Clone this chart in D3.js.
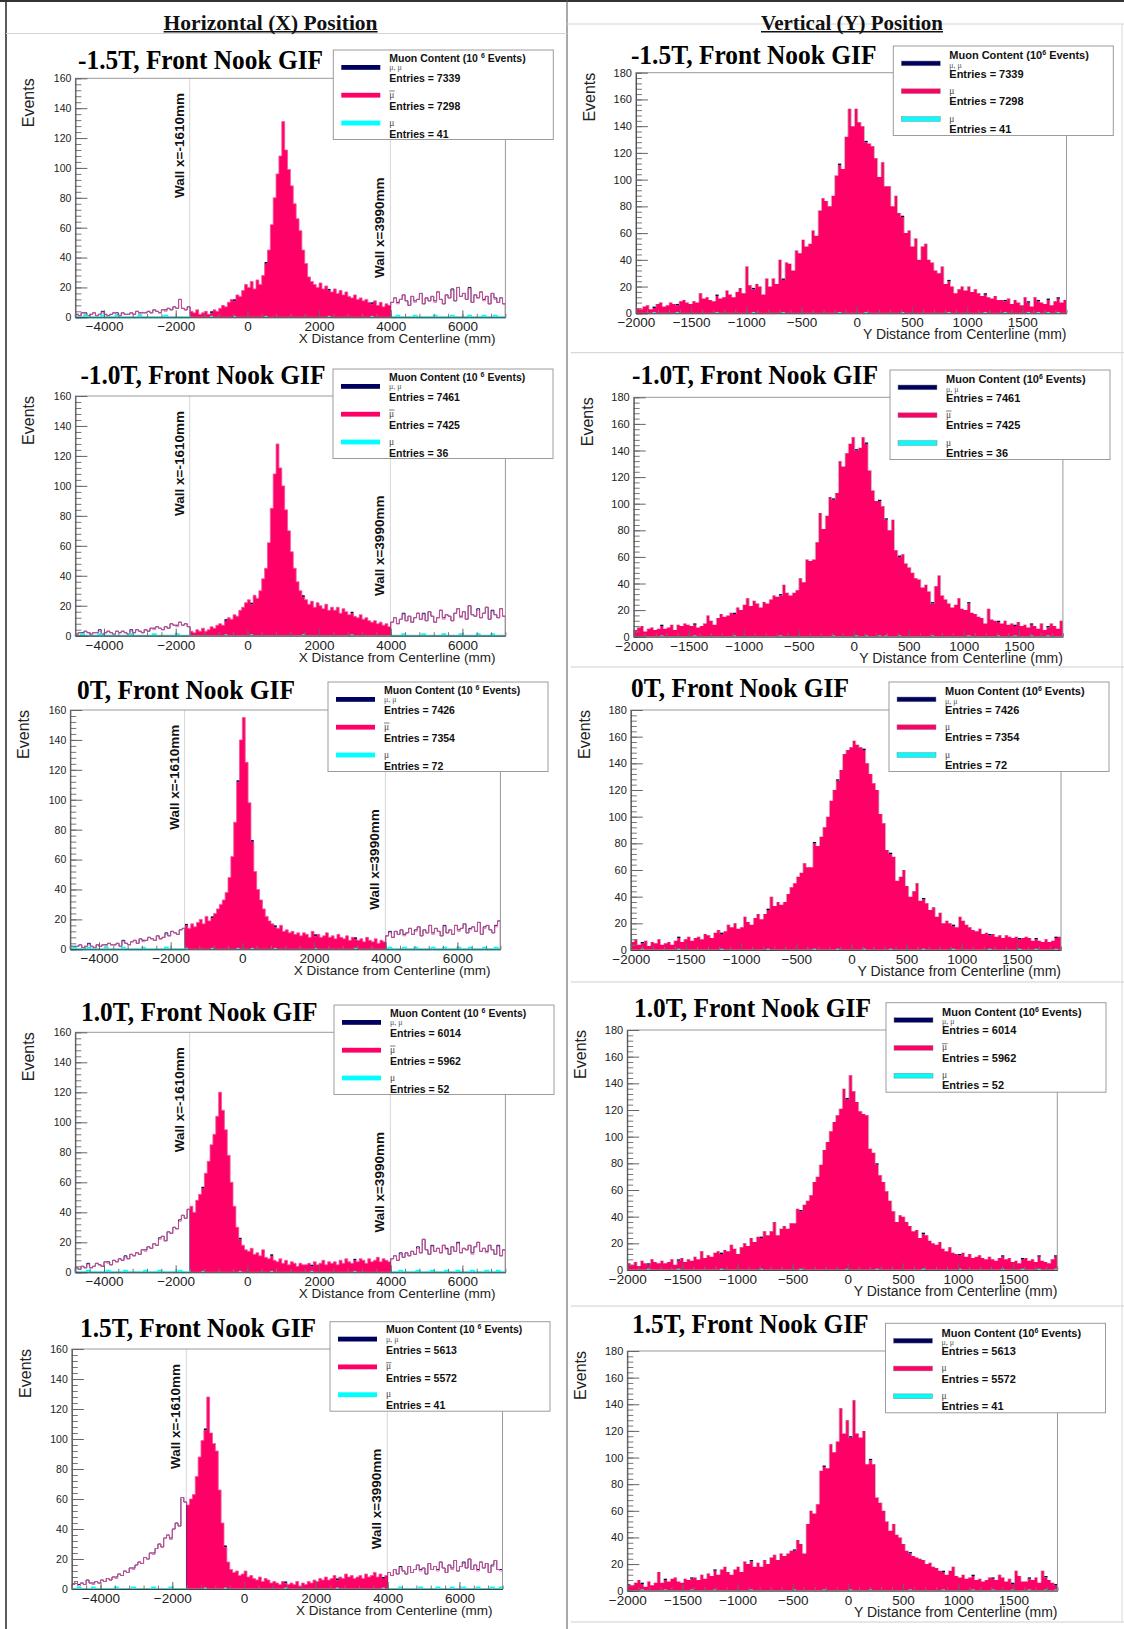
<!DOCTYPE html>
<html><head><meta charset="utf-8">
<script src="https://cdn.jsdelivr.net/npm/d3@7"></script>
<style>body{margin:0;background:#fff}svg{display:block}</style>
</head><body>
<svg id="c" width="1124" height="1629"></svg>
<script>
// ---------------- DATA ----------------
const fieldLabels = ["-1.5T", "-1.0T", "0T", "1.0T", "1.5T"];
const entriesAll = [7339, 7461, 7426, 6014, 5613];
const entriesAntiMu = [7298, 7425, 7354, 5962, 5572];
const entriesMu = [41, 36, 72, 52, 41];
const columnHeaders = ["Horizontal (X) Position", "Vertical (Y) Position"];
const xAxisTitles = ["X Distance from Centerline (mm)", "Y Distance from Centerline (mm)"];
const xRange = [-4800, 7200], xBinWidth = 80;      // X panels: 150 bins
const yRange = [-2000, 1900], yBinWidth = 30;      // Y panels: 130 bins
const walls = [-1610, 3990];
const wallLabels = ["Wall x=-1610mm", "Wall x=3990mm"];
const xTickValues = [-4000, -2000, 0, 2000, 4000, 6000];
const yPosTickValues = [-2000, -1500, -1000, -500, 0, 500, 1000, 1500];
const eventTicksX = [0, 20, 40, 60, 80, 100, 120, 140, 160];
const eventTicksY = [0, 20, 40, 60, 80, 100, 120, 140, 160, 180];

// anti-muon counts, X distance, 80 mm bins from -4800
const xAnti_m15 = [2,1,3,2,1,2,3,1,2,3,2,1,2,3,2, 1,3,2,2,3,2,4,2,3,3,4,3,5,4,3, 5,4,6,5,7,6,12,6,5,7,
 4,3,5,2,3,4,2,3,5,4, 6,8,7,10,12,11,15,14,18,22, 20,24,19,25,22,28,36,45,62,80, 96,108,131,112,99,88,76,66,58,45,
 36,27,24,22,20,23,19,21,18,17, 19,16,18,15,17,14,13,15,12,13, 11,12,10,9,11,8,10,7,9,8,
 10,13,9,12,15,11,8,14,10,12,16,9,13,11,14,10,17,12,9,15,13,18,11,20,14,16,12,19,10,15,13,17,11,14,9,16,12,10,13,9];
const xAnti_m10 = [1,2,1,3,2,1,2,2,3,1,2,3,2,1,3, 2,3,2,1,3,2,4,3,2,4,3,5,4,6,5, 4,6,5,8,7,6,9,7,8,6,
 3,2,4,3,5,3,4,6,5,7, 8,7,10,12,11,14,13,17,19,22, 24,21,27,25,30,38,45,62,85,108, 128,112,100,84,70,56,45,36,30,26,
 24,21,23,19,22,20,18,21,17,19, 17,19,15,18,16,14,15,13,12,14, 11,12,10,9,10,8,9,7,8,6,
 9,12,8,11,14,10,13,9,12,15,11,14,10,16,13,9,12,17,11,14,13,10,15,18,12,16,11,20,14,13,17,12,15,19,11,16,14,12,18,13];
const xAnti_0 = [2,1,2,3,1,2,3,2,1,3,2,3,2,4,3, 3,4,2,5,4,3,5,6,4,7,5,6,8,7,6, 9,7,8,10,9,12,11,10,13,14,
 16,14,17,15,18,20,17,22,19,21, 24,27,30,33,38,48,62,85,112,140, 155,125,98,72,52,40,33,27,22,19, 17,15,14,16,12,13,11,12,10,11,
 9,11,10,8,12,9,10,8,9,11, 8,9,7,10,8,7,9,6,8,7, 6,7,5,8,6,5,7,4,6,5,
 9,11,8,12,10,13,9,11,14,10,12,15,9,13,11,16,10,14,12,9,15,11,13,10,16,12,14,17,11,13,15,12,18,10,14,16,13,11,15,19];
const xAnti_p10 = [3,2,4,3,5,3,4,6,5,4,7,6,5,8,7, 9,8,10,9,12,11,13,12,15,14,17,16,19,18,22, 24,21,27,26,30,29,34,38,36,42,
 44,40,48,52,56,66,74,85,92,104, 120,108,95,78,60,44,30,22,18,15, 14,16,12,13,11,15,10,9,11,8, 7,9,6,8,5,7,6,4,6,5,
 5,6,4,7,5,6,8,5,7,6, 7,5,8,6,9,7,6,8,7,9, 8,6,9,7,8,10,7,9,8,7,
 9,11,8,12,10,13,11,14,12,16,13,22,15,12,17,14,16,13,18,15,12,17,14,19,13,16,15,18,12,17,20,14,16,13,18,15,12,17,11,15];
const xAnti_p15 = [3,5,2,4,3,6,4,3,5,4,6,5,7,6,8, 7,10,9,12,11,14,13,16,18,17,21,20,24,23,27, 30,28,34,36,33,40,44,42,61,58,
 56,60,63,75,88,99,106,128,104,97, 92,66,44,28,18,13,11,12,9,10, 12,8,9,7,6,8,5,7,6,4, 5,4,3,5,4,3,4,3,5,2,
 4,3,5,4,6,5,7,6,8,6, 7,9,6,8,7,10,8,9,7,8, 9,7,10,8,9,11,8,10,7,9,
 11,9,13,10,14,12,10,15,11,13,16,12,14,10,17,13,15,12,18,14,11,16,13,19,12,15,17,14,20,13,16,12,18,14,17,11,15,19,13,12];
// muon (single-event) bins, X panels
const xMu_m15 = [3,9,14,22,31,47,55,66,88,103,112,118,125,131,137,142,146];
const xMu_m10 = [2,8,19,27,35,52,61,79,96,114,121,128,134,140,145];
const xMu_0 = [1,6,12,18,25,33,40,49,58,63,71,85,99,111,116,120,126,130,135,139,144,148];
const xMu_p10 = [4,11,17,24,29,36,44,57,68,82,97,113,119,124,129,133,138,143,147];
const xMu_p15 = [2,7,15,21,28,34,46,53,74,92,108,114,121,127,132,136,141,146,149];

// anti-muon counts, Y distance, 30 mm bins from -2000
const yAnti_m15 = [4,3,5,6,3,4,7,8,5,6, 8,7,6,9,10,8,7,9,8,15, 11,12,10,9,13,11,12,17,14,12, 16,19,15,35,21,18,22,20,14,26,
 20,26,22,40,25,38,37,32,47,45, 55,50,52,62,58,77,86,84,80,88, 103,111,108,132,153,140,153,143,140,128,
 127,125,116,102,113,95,95,80,88,75, 72,60,62,50,56,40,50,52,40,38, 32,30,35,22,24,20,15,18,20,17,
 20,16,18,15,13,14,12,11,13,10, 10,9,11,7,10,8,6,12,8,5, 12,9,8,7,10,6,9,11,8,10];
const yAnti_m10 = [5,7,8,4,6,7,5,6,8,6, 7,9,5,9,8,10,9,8,9,7, 8,10,16,12,9,14,17,15,16,18, 17,22,20,24,29,23,27,25,22,26,
 25,28,31,30,31,39,33,31,33,35, 44,41,58,57,58,71,93,81,91,105, 103,108,132,128,138,145,150,140,142,150,
 145,125,110,102,102,98,88,80,88,65, 60,62,55,52,48,44,43,37,39,34, 25,38,46,31,28,25,22,24,29,21,
 20,25,18,17,15,14,10,21,13,12, 11,10,12,9,10,8,11,8,9,7, 9,8,6,10,5,7,10,8,6,12];
const yAnti_0 = [6,8,4,5,7,3,6,5,8,4, 5,6,4,7,9,6,8,10,7,9, 10,8,12,11,9,13,15,12,14,19, 17,20,16,17,25,21,19,24,27,23,
 27,30,40,33,36,34,36,42,47,50, 55,58,65,62,62,80,78,85,92,100, 112,120,127,135,147,150,152,157,154,152,
 150,140,132,125,120,102,95,75,72,70, 52,55,60,48,40,44,50,37,38,35, 30,32,25,28,20,22,20,18,17,25,
 22,19,17,15,14,16,12,13,11,12, 10,11,9,11,10,9,10,8,9,10, 9,7,8,7,6,8,6,7,9,10];
const yAnti_p10 = [5,4,6,3,7,5,4,8,6,5, 7,5,6,8,4,7,9,6,8,7, 10,8,14,9,11,10,13,14,12,15, 14,19,16,12,17,20,18,24,21,25,
 24,29,26,29,36,26,31,33,31,35, 35,46,44,49,52,56,66,70,79,90, 96,104,111,116,121,136,128,146,134,126,
 119,117,116,91,88,79,71,66,59,52, 44,36,41,40,36,33,29,30,24,27, 26,22,20,19,21,16,14,17,13,12,
 11,13,10,12,9,10,11,9,8,10, 8,7,9,10,8,9,6,7,5,8, 9,7,8,6,10,7,6,5,8,10];
const yAnti_p15 = [5,4,6,8,5,3,7,4,6,14, 6,8,7,9,10,7,6,9,8,9, 10,8,12,9,13,11,15,12,16,18, 14,12,16,18,14,22,20,22,18,21,
 18,23,20,25,27,23,28,26,28,30, 30,38,35,28,50,60,58,65,90,93, 92,110,104,112,137,118,128,115,143,118,
 115,120,95,98,95,70,66,60,52,45, 50,42,40,35,30,28,26,25,24,23, 20,21,18,17,15,14,12,15,18,11,
 10,12,9,10,11,8,9,7,8,10, 9,8,12,10,7,9,5,15,11,7, 7,9,8,10,6,15,10,8,6,4];
const yMu_m15 = [5,12,24,35,44,61,69,80,94,105,111,118,121,124,127];
const yMu_m10 = [8,18,30,44,60,67,70,74,76,80,90,101,110,115,120,125];
const yMu_0 = [3,14,27,41,55,62,70,78,88,97,108,117,122,128];
const yMu_p10 = [6,15,28,40,52,66,75,89,100,113,119,124,129];
const yMu_p15 = [4,11,19,26,37,50,59,67,73,85,95,104,110,116,121,126,129];

const xAntiSets = [xAnti_m15, xAnti_m10, xAnti_0, xAnti_p10, xAnti_p15];
const xMuSets = [xMu_m15, xMu_m10, xMu_0, xMu_p10, xMu_p15];
const yAntiSets = [yAnti_m15, yAnti_m10, yAnti_0, yAnti_p10, yAnti_p15];
const yMuSets = [yMu_m15, yMu_m10, yMu_0, yMu_p10, yMu_p15];

// ---------------- LAYOUT ----------------
const NAVY = "#00005e", PINK = "#ff0066", CYAN = "#00ffff";
const leftLayout = [
 {x0:75.4,x1:505.4,yT:78.3,yB:317.3,tx:78,ty:68.5,tw:245,lx:333.3,ly:50},
 {x0:75.4,x1:505.4,yT:396,yB:635.7,tx:80.4,ty:384,tw:245,lx:333,ly:369},
 {x0:70.3,x1:500.4,yT:710,yB:949.3,tx:77,ty:699,tw:218,lx:328,ly:682},
 {x0:75.3,x1:505.4,yT:1032.3,yB:1272.3,tx:81,ty:1021,tw:236.6,lx:334,ly:1005},
 {x0:71.8,x1:502.5,yT:1349,yB:1589,tx:80,ty:1337,tw:236,lx:330,ly:1321.7}
];
const rightLayout = [
 {x0:635.9,x1:1066.5,yT:72.7,yB:313.3,tx:630.9,ty:64,tw:245.6,lx:893.3,ly:46,bar:false},
 {x0:633.7,x1:1062.9,yT:397.3,yB:636.7,tx:632,ty:384,tw:246,lx:890,ly:370,bar:true},
 {x0:630.8,x1:1061,yT:710,yB:950,tx:631,ty:697,tw:218,lx:889,ly:682,bar:false},
 {x0:627.2,x1:1057.3,yT:1030,yB:1270,tx:634,ty:1017,tw:237,lx:886,ly:1002.7,bar:true},
 {x0:627.3,x1:1057.5,yT:1351,yB:1590.7,tx:632,ty:1333,tw:236.6,lx:885.5,ly:1323.3,bar:false}
];
const tickFmt = d => (d < 0 ? "\u2212" + Math.abs(d) : String(d));

const svg = d3.select("#c");
svg.append("rect").attr("width",1124).attr("height",1629).attr("fill","#fff");

// page frame & separators
svg.append("line").attr("x1",0).attr("x2",1124).attr("y1",1).attr("y2",1).attr("stroke","#333").attr("stroke-width",2);
svg.append("line").attr("x1",6).attr("x2",6).attr("y1",0).attr("y2",1629).attr("stroke","#333").attr("stroke-width",1.6);
svg.append("line").attr("x1",567).attr("x2",567).attr("y1",0).attr("y2",1629).attr("stroke","#555").attr("stroke-width",1);
svg.append("line").attr("x1",6).attr("x2",567).attr("y1",33.5).attr("y2",33.5).attr("stroke","#d4d4d4");
svg.append("line").attr("x1",567).attr("x2",1124).attr("y1",24).attr("y2",24).attr("stroke","#d4d4d4");
[352.7, 667, 982, 1306, 1622].forEach(y =>
  svg.append("line").attr("x1",571).attr("x2",1124).attr("y1",y).attr("y2",y).attr("stroke","#cfcfcf"));
svg.append("line").attr("x1",1122).attr("x2",1122).attr("y1",24).attr("y2",1622).attr("stroke","#d8d8d8");

// headers
[[270.6,214],[852,182]].forEach((p,i) => {
  svg.append("text").attr("x",p[0]).attr("y",30).attr("text-anchor","middle")
    .attr("font-family","Liberation Serif").attr("font-weight","bold").attr("font-size",21)
    .attr("textLength",p[1]).attr("lengthAdjust","spacingAndGlyphs").attr("fill","#111").text(columnHeaders[i]);
  svg.append("line").attr("x1",p[0]-p[1]/2).attr("x2",p[0]+p[1]/2).attr("y1",31.8).attr("y2",31.8)
    .attr("stroke","#111").attr("stroke-width",1.4);
});

function stepPath(vals, edgeFn, xs, ys, k0, k1, close) {
  let p = `M${xs(edgeFn(k0))},${ys(0)}`;
  for (let k = k0; k < k1; k++) p += `V${ys(vals[k])}H${xs(edgeFn(k + 1))}`;
  p += `V${ys(0)}`;
  return close ? p + "Z" : p;
}

function drawAxes(g, L, xs, ys, evTicks, xTicks, minorX, isLeft) {
  const ymax = evTicks[evTicks.length - 1];
  g.append("rect").attr("x",L.x0).attr("y",L.yT).attr("width",L.x1-L.x0).attr("height",L.yB-L.yT)
    .attr("fill","none").attr("stroke","#9a9a9a").attr("stroke-width",1);
  const yMinor = g.append("g").attr("transform",`translate(${L.x0},0)`)
    .call(d3.axisLeft(ys).tickValues(d3.range(0, ymax + 1, 4)).tickSize(-6).tickSizeOuter(0).tickFormat(""));
  yMinor.select(".domain").remove();
  yMinor.selectAll("line").attr("stroke","#777");
  const yAx = g.append("g").attr("transform",`translate(${L.x0},0)`)
    .call(d3.axisLeft(ys).tickValues(evTicks).tickSize(-12).tickSizeOuter(0).tickPadding(4).tickFormat(tickFmt));
  yAx.select(".domain").attr("stroke","#444");
  yAx.selectAll("line").attr("stroke","#666");
  yAx.selectAll("text").attr("font-family","Liberation Sans").attr("font-size", isLeft ? 10.5 : 11).attr("fill","#222");
  const xMinor = g.append("g").attr("transform",`translate(0,${L.yB})`)
    .call(d3.axisBottom(xs).tickValues(minorX).tickSize(-3.5).tickSizeOuter(0).tickFormat(""));
  xMinor.select(".domain").remove();
  xMinor.selectAll("line").attr("stroke","#777");
  const xAx = g.append("g").attr("transform",`translate(0,${L.yB})`)
    .call(d3.axisBottom(xs).tickValues(xTicks).tickSize(-7).tickSizeOuter(0).tickPadding(4.5).tickFormat(tickFmt));
  xAx.select(".domain").attr("stroke","#444");
  xAx.selectAll("line").attr("stroke","#666");
  xAx.selectAll("text").attr("font-family","Liberation Sans").attr("font-size",13.5).attr("fill","#222");
  g.append("text").attr("x", isLeft ? L.x1 - 10 : L.x1).attr("y", L.yB + 26).attr("text-anchor","end")
    .attr("font-family","Liberation Sans").attr("font-size", isLeft ? 13.5 : 14).attr("fill","#222")
    .text(xAxisTitles[isLeft ? 0 : 1]);
  g.append("text").attr("transform",`translate(${L.x0-41},${L.yT}) rotate(-90)`).attr("text-anchor","end")
    .attr("font-family","Liberation Sans").attr("font-size",16).attr("fill","#222").text("Events");
}

function drawTitle(g, L, i) {
  g.append("text").attr("x",L.tx).attr("y",L.ty).attr("font-family","Liberation Serif").attr("font-weight","bold")
    .attr("font-size",27).attr("textLength",L.tw).attr("lengthAdjust","spacingAndGlyphs").attr("fill","#000")
    .text(`${fieldLabels[i]}, Front Nook GIF`);
}

function drawLegend(g, L, i, isLeft, bar) {
  const x = L.lx, y = L.ly, fs = isLeft ? 10.5 : 11;
  const off = isLeft ? [11.7, 32.3, 60.3, 87.7] : [13.3, 31.7, 59.3, 86.7];
  g.append("rect").attr("x",x).attr("y",y).attr("width",220).attr("height",89.5)
    .attr("fill","#fff").attr("stroke","#9c9c9c").attr("stroke-width",1);
  [NAVY, PINK, CYAN].forEach((c, j) => {
    g.append("rect").attr("x",x+8).attr("y",y+15+j*27.8).attr("width",39).attr("height",4.8)
      .attr("fill",c).attr("stroke", isLeft ? "none" : "#888").attr("stroke-width",0.5);
  });
  const t = g.append("text").attr("x",x+56).attr("y",y+off[0]).attr("font-family","Liberation Sans")
    .attr("font-weight","bold").attr("font-size",fs).attr("fill","#111");
  t.append("tspan").text(isLeft ? "Muon Content (10 " : "Muon Content (10");
  t.append("tspan").attr("dy",-4).attr("font-size",7).text(isLeft ? " 6" : "6");
  t.append("tspan").attr("dy",4).text(" Events)");
  g.append("text").attr("x",x+56).attr("y",y+off[0]+8.2).attr("font-family","Liberation Serif")
    .attr("font-size",8).attr("fill","#555").text("μ, μ");
  g.append("text").attr("x",x+56).attr("y",y+47.5).attr("font-family","Liberation Serif")
    .attr("font-size",9.5).attr("fill","#444").text("μ");
  if (bar) g.append("line").attr("x1",x+56).attr("x2",x+61.5).attr("y1",y+41).attr("y2",y+41)
    .attr("stroke","#444").attr("stroke-width",0.7);
  g.append("text").attr("x",x+56).attr("y",y+75.5).attr("font-family","Liberation Serif")
    .attr("font-size",9.5).attr("fill","#444").text("μ");
  [entriesAll[i], entriesAntiMu[i], entriesMu[i]].forEach((e, j) => {
    g.append("text").attr("x",x+56).attr("y",y+off[j+1]).attr("font-family","Liberation Sans")
      .attr("font-weight","bold").attr("font-size",fs).attr("fill","#111").text(`Entries = ${e}`);
  });
}

function drawXPanel(i) {
  const L = leftLayout[i], anti = xAntiSets[i], n = anti.length;
  const mu = new Array(n).fill(0); xMuSets[i].forEach(k => mu[k] += 1);
  const total = anti.map((v, k) => v + mu[k]);
  const xs = d3.scaleLinear().domain(xRange).range([L.x0, L.x1]);
  const ys = d3.scaleLinear().domain([0, 160]).range([L.yB, L.yT]);
  const edge = k => xRange[0] + k * xBinWidth;
  const kLo = Math.round((walls[0] - xRange[0]) / xBinWidth), kHi = Math.round((walls[1] - xRange[0]) / xBinWidth);
  const g = svg.append("g");
  walls.forEach(w => g.append("line").attr("x1",xs(w)).attr("x2",xs(w)).attr("y1",L.yT).attr("y2",L.yB)
    .attr("stroke","#d6d6d6").attr("stroke-width",1));
  // total (navy) outline outside the walls
  [[0, kLo], [kHi, n]].forEach(r => g.append("path").attr("d",stepPath(total, edge, xs, ys, r[0], r[1], false))
    .attr("fill","none").attr("stroke",NAVY).attr("stroke-width",0.9));
  g.append("path").attr("d",stepPath(anti, edge, xs, ys, kLo, kHi, true)).attr("fill",PINK).attr("stroke","none");
  g.append("path").attr("d",stepPath(anti, edge, xs, ys, 0, n, false)).attr("fill","none")
    .attr("stroke","#f0589a").attr("stroke-width",1).attr("opacity",0.82);
  // navy tips where muons add to the total, inside walls
  g.selectAll(null).data(xMuSets[i].filter(k => k >= kLo && k < kHi)).enter().append("rect")
    .attr("x",k => xs(edge(k))).attr("width",k => xs(edge(k+1)) - xs(edge(k)))
    .attr("y",k => ys(total[k])).attr("height",k => ys(anti[k]) - ys(total[k])).attr("fill",NAVY);
  // muon histogram
  [[0, kLo], [kHi, n]].forEach(r => g.append("path").attr("d",stepPath(mu, edge, xs, ys, r[0], r[1], false))
    .attr("fill","none").attr("stroke",CYAN).attr("stroke-width",2));
  g.selectAll(null).data(xMuSets[i].filter(k => k >= kLo && k < kHi)).enter().append("rect")
    .attr("x",k => xs(edge(k))).attr("width",k => xs(edge(k+1)) - xs(edge(k)))
    .attr("y",ys(1)).attr("height",ys(0) - ys(1)).attr("fill",CYAN);
  drawAxes(g, L, xs, ys, eventTicksX, xTickValues, d3.range(-4800, 7201, 400), true);
  [[walls[0], 115], [walls[1], 60]].forEach((w, j) => {
    g.append("text").attr("transform",`translate(${xs(w[0]) - 6},${ys(w[1])}) rotate(-90)`)
      .attr("text-anchor","middle").attr("font-family","Liberation Sans").attr("font-weight","bold")
      .attr("font-size",13.5).attr("fill","#111").text(wallLabels[j]);
  });
  drawTitle(g, L, i);
  drawLegend(g, L, i, true, true);
}

function drawYPanel(i) {
  const L = rightLayout[i], anti = yAntiSets[i], n = anti.length;
  const mu = new Array(n).fill(0); yMuSets[i].forEach(k => mu[k] += 1);
  const total = anti.map((v, k) => v + mu[k]);
  const xs = d3.scaleLinear().domain(yRange).range([L.x0, L.x1]);
  const ys = d3.scaleLinear().domain([0, 180]).range([L.yB, L.yT]);
  const edge = k => yRange[0] + k * yBinWidth;
  const g = svg.append("g");
  g.append("path").attr("d",stepPath(anti, edge, xs, ys, 0, n, true)).attr("fill",PINK).attr("stroke","none");
  let vp = "";
  for (let k = 1; k < n; k++) if (anti[k] !== anti[k-1]) vp += `M${xs(edge(k))},${ys(anti[k-1])}V${ys(anti[k])}`;
  g.append("path").attr("d",vp).attr("fill","none").attr("stroke","#c4c4c4").attr("stroke-width",0.8);
  // navy tips (total above anti-muon)
  g.selectAll(null).data(yMuSets[i]).enter().append("rect")
    .attr("x",k => xs(edge(k))).attr("width",k => xs(edge(k+1)) - xs(edge(k)))
    .attr("y",k => ys(total[k])).attr("height",k => ys(anti[k]) - ys(total[k])).attr("fill",NAVY);
  g.selectAll(null).data(yMuSets[i]).enter().append("rect")
    .attr("x",k => xs(edge(k))).attr("width",k => xs(edge(k+1)) - xs(edge(k)))
    .attr("y",ys(1)).attr("height",ys(0) - ys(1)).attr("fill",CYAN);
  drawAxes(g, L, xs, ys, eventTicksY, yPosTickValues, d3.range(-2000, 1901, 100), false);
  drawTitle(g, L, i);
  drawLegend(g, L, i, false, L.bar);
}

for (let i = 0; i < 5; i++) { drawXPanel(i); drawYPanel(i); }
</script>
</body></html>
